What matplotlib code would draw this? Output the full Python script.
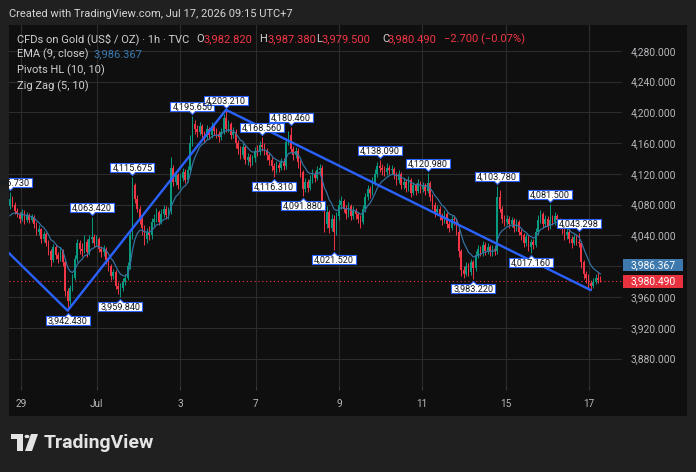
import numpy as np
import matplotlib
matplotlib.use("Agg")
import matplotlib.pyplot as plt
import matplotlib.transforms as mtransforms
from matplotlib.path import Path
from matplotlib.patches import Rectangle, Circle, Polygon

plt.rcParams['font.family'] = ['Roboto', 'DejaVu Sans']

# hourly candles, open = previous close
first_open = 4078.0
closes = [
    4088, 4080, 4072, 4068, 4062, 4070, 4060, 4066, 4060, 4064,
    4055, 4045, 4048, 4035, 4042, 4030, 4020, 4008, 4025, 4015,
    4010, 4020, 4005, 3968, 3955, 3972, 3985, 4010, 4030, 4022,
    4020, 4032, 4018, 4035, 4038, 4030, 4035, 4022, 4018, 4022,
    4008, 4000, 3988, 3992, 3975, 3970, 3972, 3980, 3985, 4000,
    4040, 4105, 4088, 4075, 4062, 4050, 4035, 4045, 4040, 4058,
    4062, 4070, 4058, 4068, 4075, 4066, 4072, 4128, 4110, 4118,
    4105, 4115, 4122, 4112, 4125, 4160, 4185, 4178, 4175, 4182,
    4172, 4168, 4178, 4170, 4182, 4176, 4172, 4168, 4175, 4192,
    4178, 4185, 4170, 4175, 4160, 4152, 4145, 4155, 4138, 4142,
    4135, 4140, 4150, 4148, 4158, 4155, 4150, 4145, 4138, 4130,
    4125, 4132, 4128, 4136, 4130, 4162, 4170, 4152, 4145, 4150,
    4135, 4122, 4100, 4110, 4102, 4112, 4120, 4115, 4125, 4128,
    4080, 4055, 4070, 4050, 4062, 4045, 4065, 4080, 4085, 4075,
    4068, 4078, 4065, 4072, 4068, 4062, 4058, 4075, 4090, 4100,
    4095, 4110, 4120, 4130, 4128, 4125, 4122, 4128, 4125, 4126,
    4118, 4112, 4120, 4105, 4110, 4102, 4112, 4095, 4105, 4098,
    4108, 4100, 4105, 4098, 4108, 4090, 4080, 4070, 4075, 4065,
    4060, 4068, 4055, 4050, 4062, 4060, 4045, 4020, 3995, 3990,
    4000, 3992, 4005, 3998, 4015, 4022, 4018, 4028, 4020, 4025,
    4018, 4022, 4020, 4090, 4075, 4062, 4058, 4062, 4055, 4060,
    4050, 4058, 4045, 4040, 4030, 4038, 4025, 4032, 4028, 4045,
    4060, 4068, 4055, 4062, 4052, 4060, 4058, 4065, 4060, 4055,
    4048, 4040, 4045, 4035, 4030, 4038, 4032, 4030, 4005, 3990,
    3985, 3978, 3975, 3980, 3985, 3982.82, 3980.49,
]
highs = [
    4096.73, 4091, 4083, 4076, 4071, 4074, 4073, 4070, 4069, 4068,
    4067, 4058, 4053, 4050, 4046, 4045, 4034, 4023, 4029, 4028,
    4019, 4025, 4023, 4008, 3972, 3976, 3990, 4015, 4036, 4034,
    4030, 4040, 4036, 4041, 4063.42, 4042, 4041, 4038, 4026, 4027,
    4025, 4011, 4003, 3997, 3995, 3979, 3978, 3985, 3990, 4006,
    4045, 4115.675, 4108, 4092, 4078, 4066, 4054, 4050, 4052, 4063,
    4068, 4076, 4073, 4074, 4080, 4078, 4077, 4142, 4132, 4124,
    4121, 4120, 4128, 4126, 4130, 4170, 4195.65, 4190, 4184, 4188,
    4185, 4176, 4183, 4181, 4188, 4186, 4180, 4176, 4180, 4198,
    4203.21, 4190, 4188, 4181, 4178, 4164, 4156, 4160, 4158, 4147,
    4146, 4145, 4155, 4157, 4163, 4168.56, 4160, 4154, 4148, 4142,
    4134, 4137, 4136, 4141, 4140, 4166, 4176, 4180.46, 4156, 4155,
    4153, 4138, 4125, 4115, 4113, 4118, 4126, 4124, 4130, 4133,
    4131, 4084, 4078, 4073, 4068, 4066, 4070, 4087, 4091, 4088,
    4080, 4084, 4081, 4078, 4076, 4071, 4066, 4080, 4095, 4106,
    4104, 4116, 4126, 4136, 4138.09, 4133, 4130, 4134, 4131, 4132,
    4129, 4122, 4125, 4123, 4115, 4113, 4117, 4115, 4110, 4108,
    4113, 4111, 4110, 4108, 4120.98, 4111, 4094, 4083, 4080, 4078,
    4069, 4073, 4071, 4059, 4067, 4066, 4063, 4048, 4023, 4000,
    4006, 4004, 4010, 4008, 4020, 4028, 4026, 4033, 4031, 4030,
    4028, 4027, 4026, 4103.78, 4099, 4078, 4066, 4067, 4065, 4064,
    4063, 4062, 4060, 4049, 4043, 4042, 4041, 4036, 4036, 4050,
    4066, 4073, 4071, 4067, 4065, 4081.5, 4066, 4070, 4068, 4063,
    4058, 4052, 4050, 4048, 4039, 4042, 4041, 4043.298, 4033, 4008,
    3994, 3990, 3982, 3985, 3990, 3992, 3987.38,
]
lows = [
    4074, 4077, 4068, 4064, 4056, 4059, 4055, 4057, 4056, 4057,
    4050, 4040, 4041, 4030, 4032, 4026, 4015, 4001, 4005, 4010,
    4004, 4007, 4001, 3962, 3942.43, 3950, 3968, 3982, 4006, 4016,
    4014, 4017, 4012, 4015, 4030, 4025, 4026, 4018, 4012, 4014,
    4003, 3994, 3982, 3983, 3970, 3964, 3959.84, 3968, 3976, 3982,
    3996, 4036, 4082, 4070, 4055, 4040, 4028, 4030, 4034, 4036,
    4052, 4058, 4054, 4055, 4064, 4061, 4062, 4068, 4104, 4106,
    4100, 4102, 4111, 4108, 4109, 4121, 4156, 4172, 4168, 4170,
    4166, 4162, 4165, 4165, 4167, 4171, 4166, 4161, 4164, 4172,
    4174, 4174, 4165, 4166, 4154, 4146, 4139, 4141, 4133, 4132,
    4129, 4131, 4136, 4143, 4144, 4150, 4144, 4138, 4132, 4124,
    4116.31, 4121, 4122, 4125, 4125, 4127, 4158, 4148, 4138, 4140,
    4128, 4116, 4091.88, 4096, 4096, 4099, 4108, 4110, 4112, 4120,
    4072, 4045, 4050, 4043, 4046, 4021.52, 4040, 4060, 4075, 4070,
    4062, 4064, 4060, 4061, 4062, 4056, 4050, 4055, 4071, 4086,
    4089, 4092, 4106, 4116, 4122, 4119, 4117, 4118, 4120, 4120,
    4113, 4106, 4108, 4100, 4101, 4096, 4098, 4090, 4092, 4093,
    4095, 4095, 4097, 4093, 4095, 4085, 4074, 4064, 4066, 4060,
    4054, 4056, 4050, 4044, 4047, 4054, 4040, 4012, 3988, 3985,
    3987, 3987, 3989, 3983.22, 3994, 4011, 4013, 4014, 4015, 4016,
    4013, 4014, 4015, 4016, 4070, 4056, 4052, 4054, 4050, 4051,
    4045, 4046, 4040, 4034, 4025, 4026, 4020, 4017.16, 4022, 4025,
    4041, 4056, 4050, 4051, 4047, 4048, 4053, 4054, 4055, 4049,
    4042, 4034, 4036, 4030, 4024, 4027, 4027, 4025, 3998, 3984,
    3978, 3972, 3969, 3972, 3977, 3978, 3979.5,
]
ema_seed = 4060.0  # EMA value just before the first visible bar

pivot_high_idx = [0, 34, 51, 76, 90, 105, 117, 154, 174, 203, 225, 237]
pivot_high_val = [4096.73, 4063.42, 4115.675, 4195.65, 4203.21, 4168.56,
                  4180.46, 4138.09, 4120.98, 4103.78, 4081.5, 4043.298]
pivot_low_idx = [24, 46, 110, 122, 135, 193, 217]
pivot_low_val = [3942.43, 3959.84, 4116.31, 4091.88, 4021.52, 3983.22, 4017.16]

zigzag_idx = [-3, 24, 90, 242]
zigzag_val = [4025, 3942.43, 4203.21, 3969]

day_ticks = [4.46, 36.1, 70.8, 102.4, 137.1, 171.7, 206.5, 241.25]
day_labels = ['29', 'Jul', '3', '7', '9', '11', '15', '17']
price_ticks = list(range(3880, 4281, 40))

last_close = 3980.49
last_ema = 3986.367

GREEN = '#089981'
RED = '#f23645'
BLUE = '#2962ff'
EMA_COL = '#3574a6'
TXT = '#cfd0d3'
AXTXT = '#b8b9bc'

W, H = 696, 472
fig = plt.figure(figsize=(W / 100, H / 100), dpi=100, facecolor='#202020')


def fx(x):
    return x / W


def fy(y):
    return 1 - y / H


# chart pane (behind the axes)
fig.patches.append(Rectangle((fx(9), fy(416)), (687 - 9) / W, (416 - 25) / H,
                             transform=fig.transFigure, fc='#0f0f0f', ec='none', zorder=-10))

ax = fig.add_axes([fx(9), fy(385), (622 - 9) / W, (385 - 25) / H])
ax.set_zorder(1)
ax.set_facecolor('none')
for s in ax.spines.values():
    s.set_visible(False)

c = np.array(closes, dtype=float)
o = np.array([first_open] + closes[:-1], dtype=float)
h = np.array(highs, dtype=float)
l = np.array(lows, dtype=float)
idx = np.arange(len(c))
cols = np.where(c >= o, GREEN, RED)

ax.vlines(idx, l, h, colors=cols, lw=0.7, zorder=3)
ax.bar(idx, np.maximum(np.abs(c - o), 0.8), bottom=np.minimum(o, c), width=0.62,
       color=cols, lw=0, zorder=3)

# EMA 9
alpha = 2 / 10
ema = []
prev = ema_seed
for v in c:
    prev = prev + alpha * (v - prev)
    ema.append(prev)
ax.plot(idx, ema, color=EMA_COL, lw=0.85, zorder=4)

# zig zag
ax.plot(zigzag_idx, zigzag_val, color=BLUE, lw=1.7, zorder=5, solid_capstyle='round')

# last price line
ax.axhline(last_close, color=RED, lw=0.8, ls=(0, (1, 2.5)), zorder=2)


# pivot labels: box + pointer as one marker path
def label_path(sign):
    verts = [(0, 2), (3, 5), (22, 5), (22, 14), (-22, 14), (-22, 5), (-3, 5), (0, 2)]
    return Path([(x, sign * y) for x, y in verts], closed=True)


ms = 44 * 72 / 100
ax.plot(pivot_high_idx, pivot_high_val, ls='none', marker=label_path(1), ms=ms,
        mfc='white', mec=BLUE, mew=0.8, zorder=6)
ax.plot(pivot_low_idx, pivot_low_val, ls='none', marker=label_path(-1), ms=ms,
        mfc='white', mec=BLUE, mew=0.8, zorder=6)
for i, v in zip(pivot_high_idx, pivot_high_val):
    t = ax.annotate(f"{v:,.3f}", (i, v), xytext=(0, 6.3), textcoords='offset pixels',
                    ha='center', va='baseline', fontsize=6.6, color='#131722', zorder=7)
    t.set_clip_on(True)
for i, v in zip(pivot_low_idx, pivot_low_val):
    t = ax.annotate(f"{v:,.3f}", (i, v), xytext=(0, -12.7), textcoords='offset pixels',
                    ha='center', va='baseline', fontsize=6.6, color='#131722', zorder=7)
    t.set_clip_on(True)

# axes, grid
ax.set_xlim(-0.42, 255)
ax.set_ylim(3845.8, 4313.4)
ax.set_xticks(day_ticks, day_labels)
ax.set_yticks(price_ticks)
# 4,000 sits under the price-scale labels, as in TradingView
ax.yaxis.set_major_formatter(plt.FuncFormatter(lambda v, p: '' if v == 4000 else f"{v:,.3f}"))
ax.yaxis.tick_right()
ax.tick_params(axis='y', length=0, pad=6, labelsize=7.4, labelcolor=AXTXT)
ax.tick_params(axis='x', length=3.6, width=0.7, color='#3a3a3a', pad=6.5,
               labelsize=7.2, labelcolor=AXTXT)
ax.grid(True, color='#2c2c2c', lw=0.8, zorder=1)
ax.set_axisbelow(True)

# price scale labels
btr = mtransforms.blended_transform_factory(ax.transAxes, ax.transData)
bw = 60.6 / 613
ph = 12.6 / 0.77
ax.add_patch(Rectangle((1.0011, last_close - ph / 2), bw, ph, transform=btr,
                       fc='#e8323f', ec='none', clip_on=False, zorder=10))
ax.text(1.0011 + bw / 2, last_close, f"{last_close:,.3f}", transform=btr,
        ha='center', va='center', fontsize=7.4, color='white', zorder=11, clip_on=False)
ema_lbl_y = last_close + 16.5 / 0.77
ax.add_patch(Rectangle((1.0011, ema_lbl_y - ph / 2), bw, ph, transform=btr,
                       fc='#3d79ad', ec='none', clip_on=False, zorder=10))
ax.text(1.0011 + bw / 2, ema_lbl_y, f"{last_ema:,.3f}", transform=btr,
        ha='center', va='center', fontsize=7.4, color='white', zorder=11, clip_on=False)

# header and legend
fig.text(fx(9), fy(14), "Created with TradingView.com, Jul 17, 2026 09:15 UTC+7",
         ha='left', va='center', fontsize=8, color='#d6d6d6')
ly = fy(39)
fs = 8.0
fig.text(fx(17), ly, "CFDs on Gold (US$ / OZ) · 1h · TVC", ha='left', va='center', fontsize=fs, color=TXT)
fig.text(fx(196), ly, "O", ha='left', va='center', fontsize=fs, color=TXT)
fig.text(fx(204), ly, "3,982.820", ha='left', va='center', fontsize=fs, color=RED)
fig.text(fx(259), ly, "H", ha='left', va='center', fontsize=fs, color=TXT)
fig.text(fx(267), ly, "3,987.380", ha='left', va='center', fontsize=fs, color=RED)
fig.text(fx(316), ly, "L", ha='left', va='center', fontsize=fs, color=TXT)
fig.text(fx(321), ly, "3,979.500", ha='left', va='center', fontsize=fs, color=RED)
fig.text(fx(382), ly, "C", ha='left', va='center', fontsize=fs, color=TXT)
fig.text(fx(388), ly, "3,980.490", ha='left', va='center', fontsize=fs, color=RED)
fig.text(fx(444), ly, "\u22122.700 (\u22120.07%)", ha='left', va='center', fontsize=fs, color=RED)
fig.text(fx(17), fy(54), "EMA (9, close)", ha='left', va='center', fontsize=fs, color=TXT)
fig.text(fx(94), fy(54), f"{last_ema:,.3f}", ha='left', va='center', fontsize=fs, color='#3a78b0')
fig.text(fx(17), fy(70), "Pivots HL (10, 10)", ha='left', va='center', fontsize=fs, color=TXT)
fig.text(fx(17), fy(86), "Zig Zag (5, 10)", ha='left', va='center', fontsize=fs, color=TXT)

# TradingView logo
logo = '#e4e4e4'
fig.patches.append(Rectangle((fx(11), fy(439)), 12 / W, 5 / H, transform=fig.transFigure, fc=logo, ec='none'))
fig.patches.append(Rectangle((fx(17), fy(451)), 6 / W, 12 / H, transform=fig.transFigure, fc=logo, ec='none'))
fig.patches.append(Circle((fx(27), fy(436.5)), 2.5 / W, transform=fig.transFigure, fc=logo, ec='none'))
fig.patches.append(Polygon([(fx(31), fy(434)), (fx(38), fy(434)), (fx(32), fy(451)), (fx(25), fy(451))],
                           closed=True, transform=fig.transFigure, fc=logo, ec='none'))
fig.text(fx(44), fy(443), "TradingView", ha='left', va='center', fontsize=14,
         fontweight='bold', color=logo)

fig.savefig('out.png', dpi=100, facecolor=fig.get_facecolor())
